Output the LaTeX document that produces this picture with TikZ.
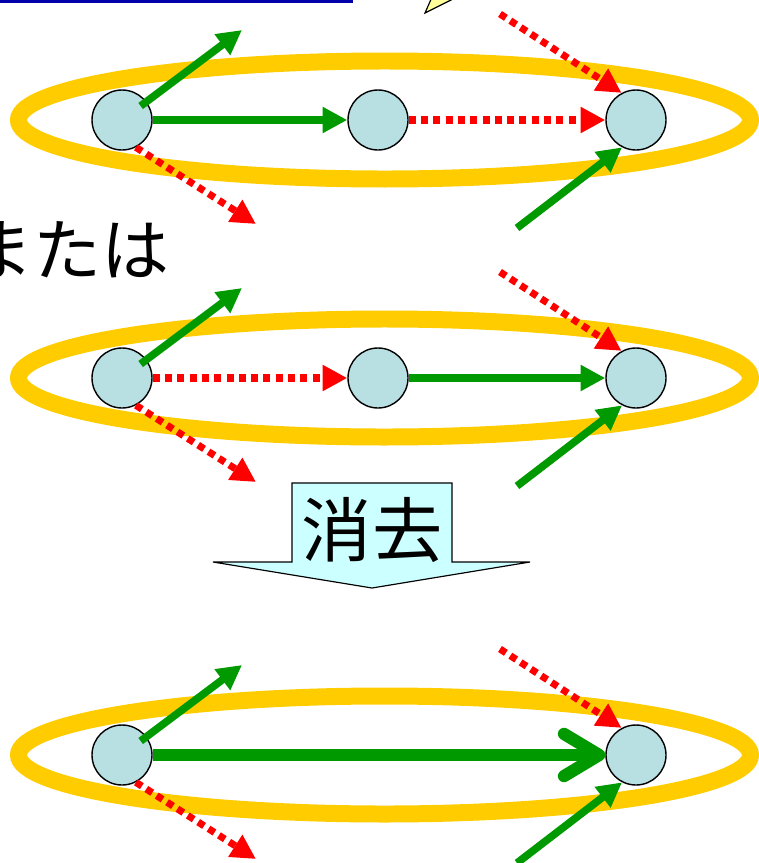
\documentclass[tikz,border=0pt]{standalone}
\usepackage{fontspec}
\newfontfamily\jpfont{Noto Sans CJK JP}
\usetikzlibrary{arrows.meta}
\definecolor{vertfill}{HTML}{B8DFE2}
\definecolor{ringgold}{HTML}{FFCC00}
\definecolor{arrgreen}{HTML}{009900}
\definecolor{arrred}{HTML}{FF0000}
\definecolor{frameblue}{HTML}{0000AA}
\definecolor{tailyellow}{HTML}{FFFF99}
\definecolor{blockcyan}{HTML}{CCFFFF}
\tikzset{
  vert/.style={circle, draw=black, line width=1.2pt, fill=vertfill,
    minimum size=1.8cm, inner sep=0pt},
  ring/.style={draw=ringgold, line width=14.5pt},
  grn/.style={draw=arrgreen, line width=6.5pt,
    -{Triangle[length=21pt,width=21pt]}},
  reddot/.style={draw=arrred, line width=6pt, dash pattern=on 6pt off 4.5pt,
    -{Triangle[length=21pt,width=21pt]}},
  fatgrn/.style={draw=arrgreen, line width=10.5pt,
    -{Straight Barb[length=30pt,width=36pt,round]}},
  jptext/.style={inner sep=0pt, font=\jpfont\fontsize{58pt}{60pt}\selectfont}
}
\begin{document}
\begin{tikzpicture}[x=0.03cm, y=-0.03cm]
   \useasboundingbox (0,0) rectangle (759,863);
   \clip (0,0) rectangle (759,863);
   % cut-off frame and callout tail at the top
   \draw[draw=frameblue, line width=2.5pt] (-10,-20) rectangle (352,1.5);
   \draw[fill=tailyellow, line width=1pt] (432,-3) -- (425,13) -- (457,-3);
   % the three rows
   \foreach \r/\dy in {1/0, 2/258, 3/635} {
     \draw[ring] (384.5,{120+\dy}) ellipse [x radius=10.98cm, y radius=1.77cm];
     \node[vert] (n\r1) at (122,{120+\dy}) {};
     \node[vert] (n\r3) at (636,{120+\dy}) {};
     \coordinate (up\r) at (242,{30+\dy});
     \coordinate (dn\r) at (256,{224+\dy});
     \coordinate (rin\r) at (500,{14+\dy});
     \coordinate (gin\r) at (517,{228+\dy});
     \draw[grn, shorten <=0.7cm] (n\r1.center) -- (up\r);
     \draw[reddot] (n\r1.-63) -- (dn\r);
     \draw[reddot] (rin\r) -- (n\r3.118);
     \draw[grn] (gin\r) -- (n\r3.-117);
   }
   \foreach \r/\dy/\sa/\sb in {1/0/grn/reddot, 2/258/reddot/grn} {
     \node[vert] (n\r2) at (378,{120+\dy}) {};
     \draw[\sa] (n\r1) -- (n\r2);
     \draw[\sb] (n\r2) -- (n\r3);
   }
   \draw[fatgrn] (n31) -- (n33);
   % labels
   \node[jptext, anchor=east] (mataha) at (170,250) {または};
   \draw[fill=blockcyan, line width=1pt] (292,483) -- (452,483) -- (452,562)
     -- (530,562) -- (372,588) -- (213,562) -- (292,562) -- cycle;
   \node[jptext, font=\jpfont\fontsize{60pt}{62pt}\selectfont] (erase) at (372,530) {消去};
\end{tikzpicture}
\end{document}
